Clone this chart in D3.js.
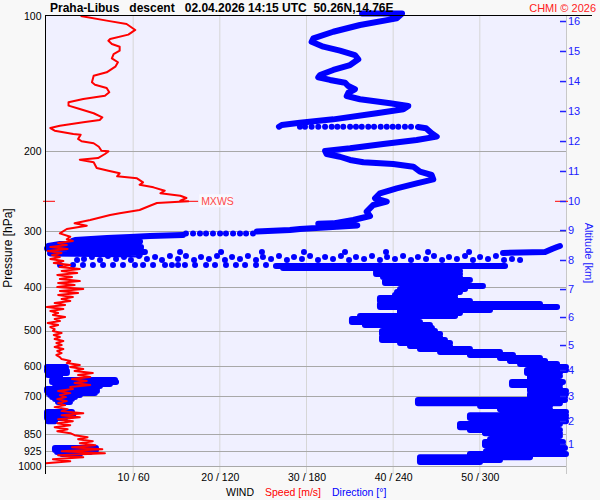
<!DOCTYPE html>
<html><head><meta charset="utf-8">
<script src="https://cdn.jsdelivr.net/npm/d3@7"></script>
<style>body{margin:0;background:#f8f8f8}svg{display:block;font-family:"Liberation Sans",Arial,sans-serif}</style>
</head><body><svg id="c" width="600" height="500"></svg>
<script>
// ---------- data ----------
const pressureTicks = [100,200,300,400,500,600,700,850,925,1000];
const gridPressures = [200,300,400,500,600,700,850,925,1000];
const speedTicks = [10,20,30,40,50];
const dirTicks = [60,120,180,240,300];
const altKm = [1,2,3,4,5,6,7,8,9,10,11,12,13,14,15,16];
const altP  = [893.3,794.3,699.0,612.0,538.5,466.6,404.4,348.5,299.0,257.7,221.0,189.6,162.6,139.5,119.6,102.6];
const maxWind = [258.1,16.4];

// wind speed profile [pressure hPa, speed m/s]
const windSpeed = [
[100,4.0],[102.4,7.0],[104.2,9.3],[107.4,10.3],[110.0,9.5],[112.5,7.4],[113.5,7.2],[115.4,7.6],[117.0,8.5],[119.4,8.5],
[121.5,7.8],[124.2,7.6],[126.7,8.3],[129.6,8.0],[133.4,7.0],[135.7,5.5],[140.4,5.3],[142.1,5.65],[144.5,7.0],[147.7,7.3],
[150.4,6.8],[152.9,4.3],[155.5,2.6],[158.2,2.6],[160.9,3.9],[164.5,5.5],[168.0,6.5],[170.2,6.2],[172.2,4.3],[175.3,1.6],
[177.4,0.5],[179.8,1.0],[182.9,3.15],[183.5,4.0],[187.6,3.7],[189.8,4.1],[191.8,5.5],[195.2,6.1],[199.3,6.4],[199.9,7.2],
[202.6,6.8],[206.9,6.0],[208.6,3.9],[211.4,5.5],[217.7,5.85],[220.7,7.2],[223.6,8.5],[227.1,8.2],[229.5,10.5],[234.2,11.2],
[237.1,10.8],[240.3,12.4],[244.5,13.7],[247.7,13.2],[250.8,15.5],[253.8,16.2],[257.3,15.5],[258.1,16.4],[260.4,12.8],[264.0,12.0],
[269.8,10.8],[274.4,8.5],[276.8,7.4],[284.0,5.1],[288.9,3.3],[292.4,4.7],[297.4,2.4],[304.1,1.6],[309.4,2.8],[313.5,2.4],
[316.2,3.1],[319.5,1.4],[322.8,2.4],[326.1,0.5],[329.4,2.5],[332.8,0.2],[336.2,1.8],[339.7,0.7],[343.2,1.6],[346.7,0.5],
[350.3,2.0],[353.9,0.9],[357.5,2.8],[361.2,1.6],[364.9,3.9],[368.7,1.8],[372.5,3.6],[376.3,1.3],[380.2,3.0],[384.1,1.6],
[388.1,3.9],[392.1,1.4],[396.1,3.3],[400.2,1.3],[404.3,4.3],[408.5,1.6],[412.7,3.7],[416.9,1.4],[421.2,3.1],[425.6,1.8],
[429.9,2.8],[434.4,1.0],[438.8,2.2],[443.4,0.1],[447.9,2.0],[452.6,0.5],[457.1,1.4],[461.8,0.8],[466.6,2.2],[471.4,1.0],
[476.3,1.6],[481.2,0.2],[486.1,1.4],[491.1,0.5],[496.2,1.0],[501.2,0.8],[506.4,1.8],[511.6,0.9],[516.9,1.6],[522.2,1.0],
[527.6,2.0],[533.0,1.2],[538.5,1.8],[544.1,1.0],[549.7,2.0],[555.3,1.3],[561.1,1.8],[566.8,1.2],[572.7,1.6],[578.6,1.8],
[584.5,2.8],[590.6,2.4],[596.6,3.9],[602.8,2.8],[609.0,4.3],[615.3,3.3],[621.6,5.4],[628.0,3.7],[634.5,5.1],[641.0,3.0],
[647.6,4.7],[654.3,3.3],[661.0,5.1],[667.8,2.8],[674.7,3.1],[681.6,1.4],[688.7,2.8],[695.8,1.6],[702.9,2.3],[710.2,1.3],
[717.5,2.4],[724.9,1.4],[732.4,2.2],[739.9,1.0],[747.5,2.5],[755.2,1.8],[763.0,4.3],[770.9,1.8],[778.8,3.9],[786.8,1.4],
[794.9,3.1],[803.1,1.3],[811.4,2.8],[819.7,1.0],[828.2,2.5],[836.7,1.3],[845.3,2.8],[854.0,3.3],[862.8,4.8],[871.7,3.7],
[880.7,5.4],[889.8,3.9],[898.9,5.7],[908.2,3.0],[917.6,6.5],[927.0,1.8],[936.6,6.8],[946.2,1.4],[956.0,4.3],[965.8,0.8],
[975.8,2.8],[985.8,0.0]
];

// wind direction profile [pressure hPa, direction deg], null = gap
const windDir = [
[98.7,218.8],[98.7,246.5],[101.2,242.8],[104.7,217.4],[108.4,198.9],[112.1,185.1],[114.1,183.9],[117.0,192.0],[119.4,203.5],
[122.1,213.9],[124.8,216.2],[128.5,210.5],[131.8,198.9],[135.2,189.7],[136.8,188.5],[138.7,196.6],[140.7,207.0],[143.1,209.3],
[145.5,213.9],[148.1,209.3],[150.6,208.2],[153.1,217.4],[156.3,238.2],[158.5,250.8],[161.2,247.4],[164.5,228.9],[169.7,198.9],
[172.6,175.8],[174.7,163.2],[176.2,161.3], null,
[176.5,257.5],[177.6,263.1],[182.2,267.0],[185.4,270.5],[188.6,256.6],[192.5,233.5],[196.8,210.5],[199.5,193.2],[202.6,194.3],
[205.5,203.5],[208.9,210.5],[211.4,219.7],[213.2,240.4],[216.2,254.3],[221.8,258.9],[225.6,267.0],[230.7,268.1],[235.4,256.6],
[241.5,242.8],[247.7,231.2],[254.2,227.8],[258.6,235.9],[263.0,226.6],[272.2,222.0],[278.3,224.3],[284.0,212.7],[288.9,198.9],
[289.5,188.5],[292.0,215.5],[295.5,190.0],[297.4,175.8],[299.0,168.9],[301.2,145.9], null,
[306.7,94.8],[308.2,72.0],[309.8,58.2],[311.4,42.2],[314.6,20.1],[316.2,18.0],[317.0,65.1],[319.5,37.4],[321.1,9.7],[324.4,1.4],
[326.1,65.8],[328.6,0.7],[330.3,65.8],[332.8,4.2],[334.5,68.5],[337.1,2.8],[338.8,65.1], null,
[336.2,316.4],[334.5,345.5],[329.4,350.3],[326.1,353.8],[324.4,355.8], null,
[359.4,159.2],[359.4,317.8],[363.1,164.1],[363.1,285.9],[368.7,228.5],[368.7,286.6],[374.4,228.5],[374.4,286.6],[380.2,233.3],
[380.2,286.6],[386.2,245.1],[386.2,293.5],[392.1,234.7],[392.1,286.6],[398.1,248.5],[398.1,302.5],[404.3,248.5],[404.3,290.1],
[410.6,245.1],[410.6,286.6],[416.9,243.0],[416.9,283.2],[423.3,241.6],[423.3,283.2],[429.9,231.2],[429.9,293.5],[436.5,241.6],
[436.5,342.0],[443.4,231.2],[443.4,353.8],[450.2,245.1],[450.2,307.4],[457.1,245.1],[457.1,286.6],[464.2,248.5],[464.2,283.2],
[471.4,217.4],[471.4,245.1],[478.6,211.8],[478.6,258.9],[486.1,220.8],[486.1,265.8],[493.6,245.1],[493.6,267.2],[501.2,234.7],
[501.2,269.3],[508.9,232.6],[508.9,272.8],[516.9,239.5],[516.9,272.8],[524.8,232.6],[524.8,276.2],[533.0,245.1],[533.0,279.7],
[541.2,252.0],[541.2,279.7],[549.7,258.9],[549.7,293.5],[558.2,272.8],[558.2,314.3],[566.8,293.5],[566.8,323.3],[575.4,314.3],
[575.4,342.0],[584.5,321.2],[584.5,345.5],[593.5,328.2],[593.5,353.8],[602.8,342.0],[602.8,360],[612.0,345.5],[612.0,360],
[621.6,333.0],[621.6,355.8],[631.0,335.1],[631.0,355.8],[641.0,335.1],[641.0,352.4],[650.8,342.0],[650.8,357.9],[661.0,322.6],
[661.0,355.8],[671.1,335.1],[671.1,355.8],[681.6,335.1],[681.6,360],[691.8,338.5],[691.8,360],[702.9,335.1],[702.9,359.3],
[713.5,342.0],[713.5,359.3],[724.9,257.5],[724.9,355.8],[735.6,300.5],[735.6,348.9],[747.5,314.3],[747.5,348.9],[758.6,335.1],
[758.6,360],[770.9,328.2],[770.9,360],[782.5,293.5],[782.5,360],[794.9,314.3],[794.9,360],[806.8,300.5],[806.8,355.8],
[819.7,286.6],[819.7,352.4],[831.8,293.5],[831.8,355.8],[845.3,303.9],[845.3,355.8],[857.7,310.8],[857.7,355.8],[871.7,310.8],
[871.7,345.5],[884.6,307.4],[884.6,357.9],[898.9,303.9],[898.9,342.0],[912.0,328.2],[912.0,359.3],[927.0,321.2],[927.0,355.8],
[940.4,304.6],[940.4,360],[956.0,293.5],[956.0,335.1],[969.8,258.9],[969.8,314.3],[979.8,258.9],[979.8,300.5], null,
[602.8,0.7],[609.0,13.8],[615.3,0.7],[621.6,14.5],[628.0,1.4],[634.5,9.7], null,
[644.0,16.6],[644.0,47.8],[650.8,4.2],[650.8,48.5],[657.5,6.2],[657.5,44.3],[664.3,9.7],[664.3,37.4], null,
[674.7,0.7],[674.7,35.3],[681.6,0.7],[681.6,35.3],[688.7,1.4],[688.7,33.9],[695.8,2.8],[695.8,23.5],[702.9,4.2],[702.9,20.1],
[710.2,6.2],[710.2,18.0],[720.8,8.3],[720.8,16.6], null,
[758.6,0.7],[758.6,18.0],[770.9,0.7],[770.9,18.7],[782.5,0.7],[782.5,13.2],[794.9,1.4],[794.9,6.2], null,
[912.0,11.1],[912.0,34.6],[921.4,6.2],[921.4,34.6],[930.9,7.6],[930.9,30.5],[940.4,11.1],[940.4,23.5]
];

// isolated direction dots [pressure hPa, direction deg]
const dirDots = [
[176.2,175.8],[176.2,179.3],[176.2,183.9],[176.2,188.5],[176.2,193.2],[176.2,197.8],[176.2,201.7],[176.2,205.8],[176.2,210.5],
[176.2,214.6],[176.2,218.6],[176.2,223.1],[176.2,227.1],[176.2,231.7],[176.2,235.9],[176.2,240.0],[176.2,243.9],[176.2,248.5],[176.2,252.7],
[304.4,143.3],[304.4,138.5],[304.4,134.3],[304.4,129.5],[304.4,124.6],[304.4,120.5],[304.4,115.6],[304.4,110.8],[304.4,106.6],
[304.4,101.8],[304.4,96.9],
[334.5,92.8],[334.5,121.2],[334.5,149.5],[334.5,178.6],[334.5,207.0],[334.5,235.4],[334.5,264.5],[334.5,292.9],
[348.5,21.5],[346.7,26.3],[343.2,31.8],[348.5,37.4],[341.5,42.9],[346.7,48.5],[343.2,54.0],[348.5,58.8],[341.5,64.4],[346.7,69.9],
[343.2,75.5],[348.5,80.3],[341.5,85.8],[346.7,91.4],[341.5,96.9],[348.5,102.5],[343.2,107.3],[346.7,112.8],[341.5,118.4],[348.5,123.9],
[343.2,128.8],[346.7,134.3],[341.5,139.8],[348.5,145.4],[343.2,150.2],[346.7,155.8],[341.5,161.3],[348.5,166.8],[343.2,171.7],[346.7,177.2],
[341.5,182.8],[348.5,188.3],[343.2,193.2],[346.7,198.7],[341.5,204.2],[348.5,209.8],[343.2,214.6],[346.7,220.2],[341.5,225.7],[348.5,231.2],
[343.2,236.1],[346.7,241.6],[341.5,247.2],[348.5,252.7],[343.2,257.5],[346.7,263.1],[341.5,268.6],[348.5,274.2],[343.2,279.0],[346.7,284.5],
[341.5,290.1],[348.5,295.6],[343.2,300.5],[346.7,306.0],[341.5,311.5],[348.5,317.1],[346.7,322.6],[348.5,328.2],
[357.5,9.7],[357.5,18.7],[357.5,25.6],[357.5,32.5],[357.5,39.5],[357.5,46.4],[357.5,53.3],[357.5,61.6],[357.5,67.2],[357.5,74.1],
[357.5,82.4],[357.5,87.2],[357.5,91.4],[357.5,96.2],[357.5,103.2],[357.5,110.8],[357.5,117.0],[357.5,124.6],[357.5,131.5],[357.5,137.8],
[357.5,145.4],[357.5,152.3]
];

// ---------- drawing ----------
const RED = "#ff0000", BLUE = "#0000ff";
const svg = d3.select("#c");
svg.append("rect").attr("width",600).attr("height",500).attr("fill","#f8f8f8");

const y  = d3.scaleLog().domain([100,1000]).range([16,466]);
const xs = d3.scaleLinear().domain([0,60]).range([46,566]);
const xd = d3.scaleLinear().domain([0,360]).range([46,566]);

svg.append("rect").attr("x",46).attr("y",16).attr("width",520).attr("height",450).attr("fill","#f0f0ff");

// vertical grid
svg.append("g").selectAll("line").data(speedTicks).join("line")
  .attr("x1",d=>xs(d)+0.5).attr("x2",d=>xs(d)+0.5).attr("y1",16).attr("y2",474)
  .attr("stroke","#d6d6d6").attr("stroke-width",1);
// horizontal grid
svg.append("g").selectAll("line").data(gridPressures).join("line")
  .attr("x1",46).attr("x2",566).attr("y1",d=>Math.round(y(d))+0.5).attr("y2",d=>Math.round(y(d))+0.5)
  .attr("stroke","#a8a8a8").attr("stroke-width",1);
// right border
svg.append("line").attr("x1",566.5).attr("x2",566.5).attr("y1",16).attr("y2",474).attr("stroke","#c8c8c8");

// direction: split into segments at nulls; noisy low segments drawn as horizontal steps
const segs = [];
let cur = [];
windDir.forEach(d => { if (d === null) { if (cur.length) segs.push(cur); cur = []; } else cur.push(d); });
if (cur.length) segs.push(cur);
const dirSmooth = d3.line().x(d=>xd(d[1])).y(d=>y(d[0]));
const dirStep = d3.line().curve(d3.curveStepAfter).x(d=>xd(d[1])).y(d=>y(d[0]));
svg.append("g").selectAll("path").data(segs).join("path")
  .attr("d", s => (s[0][0] > 355 ? dirStep : dirSmooth)(s))
  .attr("fill","none").attr("stroke",BLUE)
  .attr("stroke-width",6).attr("stroke-linejoin","round").attr("stroke-linecap","round");
svg.append("g").selectAll("circle").data(dirDots).join("circle")
  .attr("cx",d=>xd(d[1])).attr("cy",d=>y(d[0])).attr("r",3).attr("fill",BLUE);

// speed line
const spLine = d3.line().x(d=>xs(d[1])).y(d=>y(d[0]));
svg.append("path").attr("d",spLine(windSpeed)).attr("fill","none").attr("stroke",RED)
  .attr("stroke-width",2).attr("stroke-linejoin","round");

// MXWS marker
const ym = y(maxWind[0]);
svg.append("line").attr("x1",43).attr("x2",55).attr("y1",ym).attr("y2",ym).attr("stroke",RED);
svg.append("line").attr("x1",555).attr("x2",568).attr("y1",ym).attr("y2",ym).attr("stroke",RED);
svg.append("line").attr("x1",xs(maxWind[1])).attr("x2",xs(maxWind[1])+10).attr("y1",ym).attr("y2",ym).attr("stroke",RED);
svg.append("rect").attr("x",xs(maxWind[1])+11).attr("y",ym-7).attr("width",33).attr("height",13).attr("fill","#f8f8ff");
svg.append("text").attr("x",xs(maxWind[1])+13).attr("y",ym+4).attr("font-size",10.5).attr("fill","#ff4a4a").text("MXWS");

// axes lines
svg.append("line").attr("x1",45.5).attr("x2",45.5).attr("y1",16).attr("y2",474).attr("stroke","#000");
svg.append("line").attr("x1",45).attr("x2",592).attr("y1",15.5).attr("y2",15.5).attr("stroke","#000");

// left axis labels
const ax = svg.append("g").attr("transform","translate(45.5,0)")
  .call(d3.axisLeft(y).tickValues(pressureTicks).tickSize(0).tickPadding(4).tickFormat(d3.format("d")));
ax.select(".domain").remove();
ax.selectAll("text").attr("font-size",10.5).attr("fill","#000").attr("font-family","Liberation Sans, Arial, sans-serif");

// bottom labels
const bx = svg.append("g").attr("transform","translate(0.5,466)")
  .call(d3.axisBottom(xs).tickValues(speedTicks).tickSize(0).tickPadding(8).tickFormat((d,i)=>d+" / "+dirTicks[i]));
bx.select(".domain").remove();
bx.selectAll("text").attr("font-size",10.5).attr("fill","#000").attr("font-family","Liberation Sans, Arial, sans-serif");

// right altitude axis
const rx = svg.append("g").attr("transform","translate(560,0)")
  .call(d3.axisRight(y).tickValues(altP).tickSize(6).tickPadding(2).tickFormat((d,i)=>altKm[i]));
rx.select(".domain").remove();
rx.selectAll("line").attr("stroke","#2020ff").attr("stroke-width",1.5);
rx.selectAll("text").attr("font-size",11).attr("fill","#2020ff").attr("font-family","Liberation Sans, Arial, sans-serif");

// titles
svg.append("text").attr("x",50).attr("y",12).attr("font-size",12).attr("font-weight","bold").attr("fill","#000")
  .attr("xml:space","preserve").style("white-space","pre")
  .text("Praha-Libus   descent   02.04.2026 14:15 UTC  50.26N,14.76E");
svg.append("text").attr("x",596).attr("y",12).attr("text-anchor","end").attr("font-size",11).attr("fill","#ff2020")
  .text("CHMI \u00a9 2026");
svg.append("text").attr("transform","translate(12,248) rotate(-90)").attr("text-anchor","middle")
  .attr("font-size",12).attr("fill","#000").text("Pressure [hPa]");
svg.append("text").attr("transform","translate(585,253) rotate(90)").attr("text-anchor","middle")
  .attr("font-size",11).attr("fill","#2020ff").text("Altitude [km]");
svg.append("text").attr("x",226).attr("y",496).attr("font-size",10.5).attr("fill","#000").text("WIND");
svg.append("text").attr("x",265).attr("y",496).attr("font-size",10.5).attr("fill",RED).text("Speed [m/s]");
svg.append("text").attr("x",332).attr("y",496).attr("font-size",10.5).attr("fill",BLUE).text("Direction [\u00b0]");
</script></body></html>
